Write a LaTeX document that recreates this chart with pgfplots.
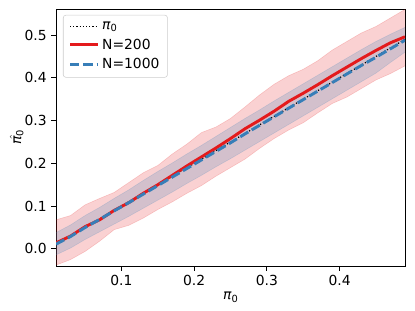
\documentclass[border=0pt]{standalone}
\usepackage{pgfplots}
\pgfplotsset{compat=1.18}
\usepackage{pgfplotstable}
\usepgfplotslibrary{fillbetween}
\usepackage{fontspec}
\setmainfont{DejaVu Sans}
\definecolor{setred}{HTML}{E41A1C}
\definecolor{setblue}{HTML}{377EB8}
\newcommand\pizero{\textit{π}\raisebox{-0.3ex}{\fontsize{7.4}{8}\selectfont 0}}

\pgfplotstableread{
x     r      rl      ru     b      bl     bu
0.01  0.014 -0.038  0.068  0.011 -0.014  0.038
0.03  0.030 -0.025  0.078  0.029  0.002  0.056
0.05  0.052 -0.006  0.103  0.050  0.022  0.078
0.07  0.068  0.018  0.118  0.069  0.040  0.097
0.09  0.090  0.045  0.132  0.089  0.058  0.118
0.11  0.108  0.055  0.155  0.108  0.076  0.138
0.13  0.130  0.072  0.178  0.128  0.095  0.160
0.15  0.150  0.092  0.195  0.148  0.114  0.181
0.17  0.172  0.110  0.222  0.168  0.133  0.201
0.19  0.194  0.130  0.245  0.188  0.153  0.222
0.21  0.215  0.148  0.272  0.208  0.172  0.242
0.23  0.236  0.170  0.285  0.228  0.192  0.263
0.25  0.258  0.190  0.305  0.248  0.211  0.284
0.27  0.281  0.210  0.332  0.269  0.231  0.305
0.29  0.301  0.235  0.360  0.289  0.251  0.325
0.31  0.322  0.258  0.385  0.309  0.271  0.346
0.33  0.345  0.278  0.405  0.329  0.291  0.366
0.35  0.364  0.295  0.420  0.349  0.311  0.386
0.37  0.384  0.318  0.440  0.369  0.331  0.406
0.39  0.405  0.340  0.465  0.389  0.351  0.426
0.41  0.425  0.355  0.485  0.409  0.371  0.446
0.43  0.445  0.375  0.505  0.429  0.391  0.466
0.45  0.464  0.395  0.520  0.448  0.411  0.485
0.47  0.482  0.410  0.540  0.468  0.436  0.502
0.49  0.496  0.428  0.560  0.488  0.460  0.518
}\data

\begin{document}
\begin{tikzpicture}
\begin{axis}[
  name=ax,
  scale only axis,
  width=261.75pt, height=192.75pt,
  xmin=0.01, xmax=0.49, ymin=-0.04, ymax=0.561,
  xtick={0.1,0.2,0.3,0.4},
  ytick={0,0.1,0.2,0.3,0.4,0.5},
  xticklabel style={/pgf/number format/.cd,fixed,fixed zerofill,precision=1},
  yticklabel style={/pgf/number format/.cd,fixed,fixed zerofill,precision=1},
  /pgf/number format/assume math mode=true,
  tick label style={font=\fontsize{10.4}{12}\selectfont},
  label style={font=\fontsize{10.4}{12}\selectfont},
  tick align=outside,
  tick pos=left,
  major tick length=3.5pt,
  tick style={black, line width=0.6pt},
  axis line style={line width=0.6pt},
  xlabel={\pizero},
  ylabel={$\hat{\hbox{\pizero}}$},
  xlabel style={yshift=2pt},
  ylabel style={yshift=-6pt},
  legend style={at={(0.02,0.977)}, anchor=north west, draw=black!20, rounded corners=2pt,
    font=\fontsize{10.4}{12}\selectfont, inner xsep=4pt, inner ysep=3pt, row sep=1.5pt},
  legend cell align=left,
  legend image code/.code={\draw[#1] (0pt,0pt) -- (21pt,0pt);},
  clip=true,
]
\addplot[name path=ru, draw=setred, draw opacity=0.2, forget plot] table[x=x,y=ru]{\data};
\addplot[name path=rl, draw=setred, draw opacity=0.2, forget plot] table[x=x,y=rl]{\data};
\addplot[fill=setred, fill opacity=0.2, draw=none, forget plot] fill between[of=ru and rl];
\addplot[name path=bu, draw=setblue, draw opacity=0.2, forget plot] table[x=x,y=bu]{\data};
\addplot[name path=bl, draw=setblue, draw opacity=0.2, forget plot] table[x=x,y=bl]{\data};
\addplot[fill=setblue, fill opacity=0.2, draw=none, forget plot] fill between[of=bu and bl];
\addplot[black, line width=0.9pt, dash pattern=on 0.9pt off 1.5pt] coordinates {(0.01,0.01) (0.49,0.49)};
\addlegendentry{\pizero}
\addplot[setred, line width=2.2pt] table[x=x,y=r]{\data};
\addlegendentry{N=200}
\addplot[setblue, line width=2.2pt, dash pattern=on 7pt off 3pt] table[x=x,y=b]{\data};
\addlegendentry{N=1000}
\end{axis}
\pgfresetboundingbox
\path[use as bounding box] ([xshift=-42pt,yshift=-33.75pt]ax.south west) rectangle ([xshift=7.5pt,yshift=6.75pt]ax.north east);
\end{tikzpicture}
\end{document}
